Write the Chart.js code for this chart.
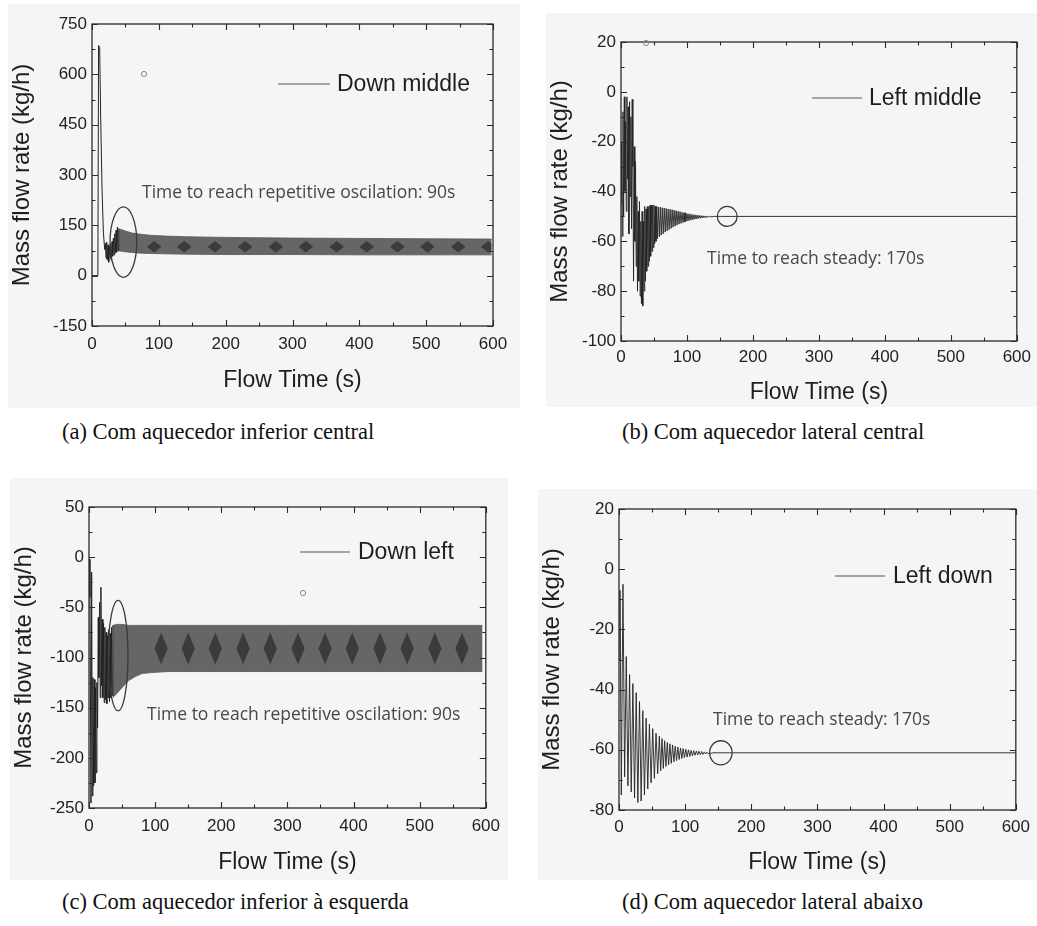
<!DOCTYPE html>
<html><head><meta charset="utf-8">
<script src="https://cdn.jsdelivr.net/npm/chart.js@4.4.1/dist/chart.umd.min.js"></script>
<style>
html,body{margin:0;padding:0;background:#fff}
body{width:1037px;height:926px;position:relative;overflow:hidden}
.panel{position:absolute;background:#f5f5f5}
.panel canvas{position:absolute;left:0;top:0}
.cap{position:absolute;font-family:"Liberation Serif","DejaVu Serif",serif;font-size:22.5px;color:#111;white-space:nowrap;line-height:1}
</style></head><body>
<div class="panel" style="left:8px;top:4px;width:512px;height:404px"><canvas id="cA" width="512" height="404"></canvas></div>
<div class="panel" style="left:546px;top:13px;width:491px;height:394px"><canvas id="cB" width="491" height="394"></canvas></div>
<div class="panel" style="left:10px;top:478px;width:498px;height:402px"><canvas id="cC" width="498" height="402"></canvas></div>
<div class="panel" style="left:538px;top:489px;width:499px;height:391px"><canvas id="cD" width="499" height="391"></canvas></div>
<div class="cap" style="left:62px;top:421px">(a) Com aquecedor inferior central</div>
<div class="cap" style="left:622px;top:421px">(b) Com aquecedor lateral central</div>
<div class="cap" style="left:62px;top:891px">(c) Com aquecedor inferior à esquerda</div>
<div class="cap" style="left:622px;top:891px">(d) Com aquecedor lateral abaixo</div>
<script>
// ---------- DATA ----------
const xTicks = [0, 100, 200, 300, 400, 500, 600];

// (a) Down middle
const aTransT = [0, 8.8, 9.8, 11.5, 13, 15, 17, 19, 20, 21, 22, 23, 24, 25, 26, 27, 28, 29, 30, 31, 32, 33, 34, 35, 36, 37, 38, 39, 40];
const aTransV = [0, 0, 686, 680, 470, 260, 130, 78, 96, 52, 100, 46, 92, 40, 88, 52, 96, 45, 102, 58, 112, 62, 125, 68, 135, 70, 145, 74, 140];
const aBandT  = [40, 50, 60, 75, 90, 110, 140, 200, 300, 400, 500, 598];
const aBandHi = [140, 133, 127, 123, 120, 118, 116, 114, 112, 111, 110, 109];
const aBandLo = [74, 71, 69, 67, 66, 65, 64, 63, 63, 62, 62, 62];
const aDiaT  = [82,93,104, 127,138,149, 173,184,195, 218,229,240, 264,275,286, 309,320,331, 355,366,377, 400,411,422, 446,457,468, 491,502,513, 537,548,559, 582,593,598];
const aDiaHi = [86,103,86, 86,103,86, 86,103,86, 86,103,86, 86,103,86, 86,103,86, 86,103,86, 86,103,86, 86,103,86, 86,103,86, 86,103,86, 86,103,95];
const aDiaLo = [86,69,86, 86,69,86, 86,69,86, 86,69,86, 86,69,86, 86,69,86, 86,69,86, 86,69,86, 86,69,86, 86,69,86, 86,69,86, 86,69,77];
const aYTicks = [-150, 0, 150, 300, 450, 600, 750];

// (b) Left middle
const bT = [0,1,2,3,4,5,6,7,8,9,10,11,12,13,14,15,16,17,18,19,20,21,22,23,24,25,26,27,28,29,30,31,32,33,34,35,36,37,38,39,40,41,42,43,44,45,46,47,48,49,50,51,52,53,54,55,
  56.5,58,59.5,61,62.5,64,65.5,67,68.5,70,71.5,73,74.5,76,77.5,79,80.5,82,83.5,85,86.5,88,89.5,91,92.5,94,95.5,97,98.5,100,101.5,103,104.5,106,107.5,109,110.5,112,113.5,115,116.5,118,119.5,121,122.5,124,125.5,127,128.5,130,131.5,133,134.5,136,140,600];
const bV = [-45,-20,-58,-8,-50,-2,-40,-12,-48,-2,-35,-6,-57,-4,-42,-10,-55,-3,-30,-76,-22,-60,-28,-70,-42,-80,-48,-76,-44,-82,-52,-85,-48,-86,-52,-80,-46,-76,-47,-72,-46,-70,-46,-68,-45.5,-66,-45.5,-64,-45.5,-62.5,-45.5,-61,-46,-60,-46,-59,
  -46.2,-58.2,-46.3,-57.5,-46.5,-57,-46.6,-56.3,-46.8,-55.8,-47,-55.3,-47.1,-54.8,-47.3,-54.3,-47.5,-53.9,-47.7,-53.5,-47.9,-53.1,-48.1,-52.8,-48.3,-52.5,-48.5,-52.2,-48.7,-51.9,-48.9,-51.7,-49,-51.5,-49.2,-51.3,-49.3,-51.1,-49.4,-51,-49.5,-50.8,-49.6,-50.7,-49.7,-50.6,-49.8,-50.5,-49.8,-50.4,-49.9,-50.3,-49.9,-50.2,-50,-50];
const bYTicks = [-100, -80, -60, -40, -20, 0, 20];

// (c) Down left
const cTransT = [0, 1.5, 3, 4, 5, 6, 7, 8, 9, 10, 11, 12, 13, 14, 15, 16, 17, 18, 19, 20, 21, 22, 23, 24, 25, 26, 27, 28, 29, 30, 31, 32, 33, 34, 35, 36];
const cTransV = [-2, -40, -245, -15, -238, -120, -228, -122, -225, -130, -215, -125, -170, -60, -120, -45, -140, -30, -128, -62, -140, -66, -145, -70, -142, -75, -146, -78, -140, -72, -144, -76, -140, -70, -138, -68];
const cBandT  = [36, 42, 50, 60, 70, 80, 95, 120, 200, 300, 400, 500, 595];
const cBandHi = [-68, -67, -67, -68, -68, -68, -68, -68, -68, -68, -68, -68, -68];
const cBandLo = [-140, -136, -130, -123, -119, -116, -115, -114, -114, -114, -114, -114, -114];
const cDiaT  = [99,109,119, 140,150,160, 181,191,201, 223,233,243, 264,274,284, 306,316,326, 347,357,367, 388,398,408, 430,440,450, 471,481,491, 513,523,533, 554,564,574];
const cDiaHi = [-91,-75,-91, -91,-75,-91, -91,-75,-91, -91,-75,-91, -91,-75,-91, -91,-75,-91, -91,-75,-91, -91,-75,-91, -91,-75,-91, -91,-75,-91, -91,-75,-91, -91,-75,-91];
const cDiaLo = [-91,-107,-91, -91,-107,-91, -91,-107,-91, -91,-107,-91, -91,-107,-91, -91,-107,-91, -91,-107,-91, -91,-107,-91, -91,-107,-91, -91,-107,-91, -91,-107,-91, -91,-107,-91];
const cYTicks = [-250, -200, -150, -100, -50, 0, 50];

// (d) Left down
const dT = [0,1.5,3.5,6,8.5,11,13.5,16,18.5,21,23.5,26,28.5,31,33.5,36,38.5,41,43.5,46,48.5,51,53.5,56,58.5,61,63,65,67,69,71,73,75,77,79,81,83,85,87,89,91,93,95,97,99,101,103,105,107,109,111,113,115,117,119,121,123,125,127,129,131,133,135,137,139,142,600];
const dV = [-30,-7,-75,-5,-69,-29,-72,-35,-74,-38,-76,-41,-77.5,-44,-77,-47,-75,-49.5,-73,-51.5,-71,-53,-69.5,-54.5,-68,-55.5,-67,-56.3,-66.2,-57,-65.5,-57.6,-65,-58,-64.5,-58.4,-64,-58.8,-63.6,-59.1,-63.2,-59.4,-62.9,-59.6,-62.6,-59.8,-62.4,-60,-62.2,-60.2,-62,-60.3,-61.8,-60.4,-61.7,-60.5,-61.6,-60.6,-61.5,-60.7,-61.4,-60.8,-61.3,-60.9,-61.2,-61,-61];
const dYTicks = [-80, -60, -40, -20, 0, 20];

// ---------- RENDERING ----------
const SANS = '"Liberation Sans", Arial, Helvetica, sans-serif';
const ANN = '"Open Sans", "Noto Sans", sans-serif';
Chart.defaults.font.family = SANS;
Chart.defaults.color = '#222';

function pts(t, v) { return t.map((x, i) => ({ x: x, y: v[i] })); }

const decoPlugin = {
  id: 'deco',
  afterDatasetsDraw(chart, args, o) {
    const { ctx, chartArea: ca } = chart;
    const x = chart.scales.x, y = chart.scales.y;
    ctx.save();
    if (o.ellipse) {
      const e = o.ellipse;
      const cx = x.getPixelForValue(e.cx), cy = y.getPixelForValue(e.cy);
      const rx = Math.abs(x.getPixelForValue(e.cx + e.rx) - cx);
      const ry = Math.abs(y.getPixelForValue(e.cy + e.ry) - cy);
      ctx.beginPath(); ctx.ellipse(cx, cy, rx, ry, 0, 0, Math.PI * 2);
      ctx.strokeStyle = '#3a3a3a'; ctx.lineWidth = 1.3; ctx.stroke();
    }
    ctx.strokeStyle = '#2a2a2a'; ctx.lineWidth = 1.3;
    ctx.strokeRect(ca.left, ca.top, ca.width, ca.height);
    ctx.lineWidth = 1.1;
    ctx.beginPath();
    const xs = o.xStep / 2;
    for (let v = x.min, k = 0; v <= x.max + 1e-9; v += xs, k++) {
      const p = Math.round(x.getPixelForValue(v)) + 0.5;
      const len = k % 2 === 0 ? 6 : 3.5;
      ctx.moveTo(p, ca.bottom); ctx.lineTo(p, ca.bottom - len);
      ctx.moveTo(p, ca.top); ctx.lineTo(p, ca.top + len);
    }
    const ys = o.yStep / 2;
    for (let v = y.min, k = 0; v <= y.max + 1e-9; v += ys, k++) {
      const p = Math.round(y.getPixelForValue(v)) + 0.5;
      const len = k % 2 === 0 ? 6 : 3.5;
      ctx.moveTo(ca.left, p); ctx.lineTo(ca.left + len, p);
      ctx.moveTo(ca.right, p); ctx.lineTo(ca.right - len, p);
    }
    ctx.stroke();
    const L = o.legend;
    ctx.beginPath();
    ctx.moveTo(ca.left + L.x1, ca.top + L.y); ctx.lineTo(ca.left + L.x2, ca.top + L.y);
    ctx.strokeStyle = '#555'; ctx.lineWidth = 1; ctx.stroke();
    ctx.fillStyle = '#1e1e1e'; ctx.font = '23px ' + SANS; ctx.textBaseline = 'middle'; ctx.textAlign = 'left';
    ctx.fillText(L.text, ca.left + L.tx, ca.top + L.y + 1);
    const A = o.note;
    ctx.fillStyle = '#474747'; ctx.font = '17.5px ' + ANN;
    ctx.fillText(A.text, ca.left + A.x, ca.top + A.y);
    if (o.dot) {
      ctx.beginPath(); ctx.arc(ca.left + o.dot.x, ca.top + o.dot.y, 2.6, 0, Math.PI * 2);
      ctx.strokeStyle = '#8a8a8a'; ctx.lineWidth = 1; ctx.stroke();
    }
    ctx.restore();
  }
};

function makeChart(id, p) {
  return new Chart(document.getElementById(id), {
    type: 'line',
    data: { datasets: p.datasets },
    options: {
      responsive: false, animation: false, events: [],
      layout: { padding: { left: 0, top: p.padTop, right: p.padRight, bottom: 0 } },
      elements: { point: { radius: 0 }, line: { tension: 0 } },
      plugins: { legend: { display: false }, tooltip: { enabled: false }, deco: p.deco },
      scales: {
        x: {
          type: 'linear', min: 0, max: 600,
          afterFit: s => { s.height = p.xAxisH; },
          afterBuildTicks: s => { s.ticks = xTicks.map(v => ({ value: v })); },
          ticks: { font: { size: 17 }, color: '#222', padding: p.xTickPad, maxRotation: 0, autoSkip: false },
          grid: { display: false, drawTicks: false }, border: { display: false },
          title: { display: true, text: 'Flow Time (s)', font: { size: 23 }, color: '#1e1e1e', padding: { top: 0, bottom: p.xTitlePad } }
        },
        y: {
          type: 'linear', min: p.yTicks[0], max: p.yTicks[p.yTicks.length - 1],
          afterFit: s => { s.width = p.yAxisW; },
          afterBuildTicks: s => { s.ticks = p.yTicks.map(v => ({ value: v })); },
          ticks: { font: { size: 17 }, color: '#222', padding: 5, autoSkip: false },
          grid: { display: false, drawTicks: false }, border: { display: false },
          title: { display: true, text: 'Mass flow rate (kg/h)', font: { size: 24 }, color: '#1e1e1e', padding: { top: p.yTitlePad, bottom: 0 } }
        }
      }
    },
    plugins: [decoPlugin]
  });
}

const TRACE = '#222';
function bandSets(transT, transV, bandT, hi, lo, diaT, dHi, dLo) {
  return [
    { data: pts(transT, transV), borderColor: TRACE, borderWidth: 1, fill: false },
    { data: pts(diaT, dHi), borderColor: 'rgba(0,0,0,0)', borderWidth: 0, fill: false },
    { data: pts(diaT, dLo), borderColor: 'rgba(0,0,0,0)', borderWidth: 0, fill: '-1', backgroundColor: 'rgba(30,30,30,0.6)' },
    { data: pts(bandT, hi), borderColor: '#555', borderWidth: 0.8, fill: false },
    { data: pts(bandT, lo), borderColor: '#555', borderWidth: 0.8, fill: '-1', backgroundColor: '#666' }
  ];
}

makeChart('cA', {
  datasets: bandSets(aTransT, aTransV, aBandT, aBandHi, aBandLo, aDiaT, aDiaHi, aDiaLo),
  yTicks: aYTicks, padTop: 20, padRight: 27, yAxisW: 84, xAxisH: 82, xTickPad: 8, xTitlePad: 14, yTitlePad: 0,
  deco: { xStep: 100, yStep: 150, ellipse: { cx: 47, cy: 100, rx: 20, ry: 105 },
    legend: { x1: 186, x2: 238, y: 60, tx: 245, text: 'Down middle' },
    note: { x: 50, y: 169, text: 'Time to reach repetitive oscilation: 90s' },
    dot: { x: 52, y: 50 } }
});

makeChart('cB', {
  datasets: [{ data: pts(bT, bV), borderColor: TRACE, borderWidth: 0.9, fill: false }],
  yTicks: bYTicks, padTop: 29, padRight: 17, yAxisW: 75, xAxisH: 66, xTickPad: 6, xTitlePad: 1, yTitlePad: 0,
  deco: { xStep: 100, yStep: 20, ellipse: { cx: 161, cy: -50, rx: 15, ry: 4 },
    legend: { x1: 191, x2: 241, y: 56, tx: 248, text: 'Left middle' },
    note: { x: 86, y: 217, text: 'Time to reach steady: 170s' },
    dot: { x: 25, y: 1 } }
});

makeChart('cC', {
  datasets: bandSets(cTransT, cTransV, cBandT, cBandHi, cBandLo, cDiaT, cDiaHi, cDiaLo),
  yTicks: cYTicks, padTop: 29, padRight: 22, yAxisW: 79, xAxisH: 72, xTickPad: 8, xTitlePad: 4, yTitlePad: 0,
  deco: { xStep: 100, yStep: 50, ellipse: { cx: 44, cy: -98, rx: 15, ry: 55 },
    legend: { x1: 211, x2: 261, y: 45, tx: 269, text: 'Down left' },
    note: { x: 58, y: 208, text: 'Time to reach repetitive oscilation: 90s' },
    dot: { x: 214, y: 86 } }
});

makeChart('cD', {
  datasets: [{ data: pts(dT, dV), borderColor: TRACE, borderWidth: 0.9, fill: false }],
  yTicks: dYTicks, padTop: 20, padRight: 17, yAxisW: 81, xAxisH: 70, xTickPad: 7, xTitlePad: 4, yTitlePad: 0,
  deco: { xStep: 100, yStep: 20, ellipse: { cx: 154, cy: -61, rx: 17, ry: 4 },
    legend: { x1: 216, x2: 266, y: 67, tx: 274, text: 'Left down' },
    note: { x: 94, y: 211, text: 'Time to reach steady: 170s' } }
});
</script>
</body></html>
